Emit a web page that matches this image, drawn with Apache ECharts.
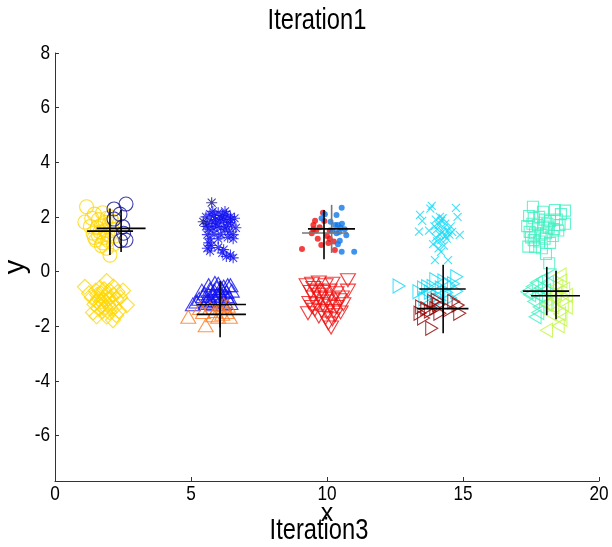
<!DOCTYPE html>
<html><head><meta charset="utf-8">
<script src="https://cdn.jsdelivr.net/npm/echarts@6/dist/echarts.min.js"></script>
<style>html,body{margin:0;padding:0;background:#fff}#c{width:612px;height:547px}</style>
</head><body><div id="c"></div>
<script>
var xTicks = [0, 5, 10, 15, 20];
var yTicks = [-6, -4, -2, 0, 2, 4, 6, 8];

var yellowCircles = [[1.16,2.37],[1.1,1.81],[2.02,0.6],[1.45,2.1],[1.6,1.9],[1.75,2.15],[1.9,1.95],[1.55,1.6],[1.7,1.7],[1.85,1.5],[2.0,1.75],[1.4,1.4],[1.6,1.3],[1.8,1.25],[1.95,1.35],[2.1,1.55],[1.5,1.15],[1.75,1.05],[1.9,0.85],[2.15,1.0],[1.3,1.65],[1.65,1.45],[2.05,2.0],[1.85,1.8],[1.45,1.25],[2.2,1.3],[1.7,0.95],[1.95,1.15],[1.35,1.95],[2.1,1.85]];
var navyCircles = [[2.61,2.47],[2.17,2.29],[2.17,1.92],[2.39,2.1],[2.49,1.64],[2.52,1.4],[2.41,1.13],[2.61,1.15]];
var yellowDiamonds = [[1.1,-0.56],[1.53,-1.64],[2.13,-1.78],[2.64,-1.23],[1.9,-0.35],[1.5,-0.7],[1.7,-0.8],[2.0,-0.7],[2.3,-0.75],[1.35,-0.95],[1.6,-1.0],[1.8,-1.05],[2.05,-0.95],[2.25,-1.0],[1.45,-1.2],[1.7,-1.25],[1.95,-1.2],[2.2,-1.3],[1.55,-0.85],[1.85,-0.9],[2.1,-1.15],[1.75,-1.45],[2.0,-1.5],[2.35,-1.45],[1.6,-1.35],[1.9,-1.65],[2.4,-0.95],[1.25,-0.8],[1.65,-0.6],[2.15,-0.55],[1.8,-0.65],[1.95,-1.0],[1.7,-1.1],[2.05,-1.35],[2.5,-0.7],[1.4,-1.5],[2.25,-1.6],[1.85,-1.3],[2.15,-0.85],[1.55,-1.1]];
var navyStars = [[5.76,2.52],[5.45,1.82]];
var blueStars = [[5.55,2.0],[5.7,2.1],[5.85,2.05],[6.0,2.15],[6.15,2.05],[6.3,2.1],[6.45,2.0],[6.6,1.95],[5.6,1.75],[5.75,1.85],[5.9,1.9],[6.05,1.85],[6.2,1.9],[6.35,1.8],[6.5,1.7],[6.65,1.6],[5.65,1.55],[5.8,1.6],[5.95,1.65],[6.1,1.6],[6.25,1.55],[6.4,1.45],[6.55,1.35],[6.55,1.2],[6.35,1.25],[6.1,1.35],[5.85,1.4],[6.0,1.2],[5.6,1.35],[5.7,1.2],[5.65,1.05],[5.75,0.95],[5.6,0.85],[5.7,0.75],[6.0,0.88],[6.15,0.68],[6.3,0.55],[6.45,0.6],[6.55,0.5],[6.2,0.8],[5.55,1.65],[6.45,1.9],[5.9,1.75],[6.1,1.95],[6.3,1.65],[5.8,2.2],[6.25,2.2]];
var blueTriangles = [[5.07,-1.2],[5.88,-0.42],[5.3,-1.0],[5.5,-0.8],[5.6,-1.05],[5.7,-0.65],[5.8,-0.9],[5.95,-0.6],[6.05,-0.8],[6.2,-0.55],[6.3,-0.75],[6.4,-0.95],[6.5,-0.7],[5.4,-0.7],[5.55,-1.15],[5.75,-1.1],[5.9,-1.05],[6.1,-1.0],[6.25,-1.1],[6.45,-1.15],[5.65,-0.5],[6.0,-0.45],[6.35,-0.5],[5.85,-0.7],[6.15,-0.7],[5.45,-0.9],[6.3,-0.9],[5.95,-0.85],[5.65,-0.85],[6.1,-0.6],[5.2,-1.1],[6.2,-1.2],[5.8,-1.2],[6.45,-0.5]];
var orangeTriangles = [[4.9,-1.66],[5.54,-1.97],[5.44,-1.48],[6.07,-1.34],[6.31,-1.48],[6.43,-1.66],[5.81,-1.6],[6.2,-1.2],[5.7,-1.34],[5.33,-1.34],[6.0,-1.66],[6.35,-1.25],[5.9,-1.45],[6.15,-1.55]];
var redDots = [[9.08,0.82],[9.56,1.86],[9.44,1.4],[9.85,2.15],[9.73,1.62],[10.05,1.04],[10.25,1.1],[9.79,0.97],[10.29,0.79],[9.6,1.5],[10.0,1.3],[9.5,1.7],[10.1,1.5],[9.66,1.2],[9.5,1.55],[9.9,1.85],[10.1,1.2]];
var blueDots = [[10.54,2.33],[10.35,2.07],[9.92,2.1],[10.13,1.82],[10.4,1.7],[10.5,1.6],[10.71,1.33],[10.47,1.13],[10.4,1.0],[10.54,0.72],[11.0,0.72],[10.3,1.7],[10.55,1.75],[10.2,1.5],[10.35,1.4],[10.65,1.55],[10.45,1.45],[9.8,1.95]];
var redDown = [[9.3,-1.53],[10.15,-2.05],[10.77,-0.32],[10.77,-0.7],[9.25,-0.5],[9.45,-0.45],[9.7,-0.4],[9.95,-0.5],[10.2,-0.45],[9.4,-0.75],[9.6,-0.7],[9.85,-0.75],[10.1,-0.7],[10.35,-0.8],[9.5,-0.95],[9.75,-1.0],[9.95,-0.95],[10.2,-1.0],[10.45,-1.05],[9.35,-1.15],[9.6,-1.2],[9.85,-1.2],[10.1,-1.25],[10.35,-1.3],[10.6,-1.2],[9.55,-1.4],[9.8,-1.45],[10.0,-1.5],[10.25,-1.45],[10.5,-1.5],[9.7,-1.65],[9.95,-1.7],[10.2,-1.75],[10.05,-1.9],[10.3,-1.6],[9.5,-0.6],[10.0,-1.1],[9.7,-0.85],[10.55,-0.95],[9.45,-1.3]];
var cyanX = [[13.85,2.4],[14.74,2.33],[13.42,2.07],[14.8,2.0],[13.5,1.85],[13.38,1.46],[14.88,1.34],[13.97,0.42],[14.45,0.42],[14.19,0.72],[13.9,1.0],[14.0,1.9],[14.2,1.85],[14.35,1.75],[14.1,1.7],[14.3,1.6],[14.05,1.55],[14.25,1.45],[14.45,1.5],[14.15,1.35],[14.35,1.3],[14.0,1.25],[14.5,1.35],[14.6,1.45],[14.2,1.15],[14.05,1.1],[14.4,1.2],[13.95,1.65],[14.15,2.0],[14.55,1.65],[13.75,1.5],[14.3,0.95],[13.8,2.3],[14.1,0.85],[14.25,1.95]];
var cyanRight = [[12.65,-0.53],[14.77,-0.19],[14.5,-0.5],[13.9,-0.55],[13.38,-0.74],[13.7,-0.56],[14.4,-0.77],[14.2,-0.6],[14.77,-0.72],[14.05,-0.9],[14.55,-0.97],[13.6,-1.0],[13.8,-0.76],[14.3,-0.35],[14.0,-0.3],[14.65,-0.45],[13.55,-0.6],[14.15,-1.05]];
var darkRedRight = [[13.85,-2.08],[13.42,-1.53],[13.67,-1.36],[14.15,-1.53],[14.82,-1.23],[14.88,-1.53],[13.92,-1.1],[14.1,-1.22],[13.48,-1.3],[13.55,-1.7],[14.05,-1.05],[14.66,-1.1],[13.8,-1.45],[14.0,-1.35],[14.5,-1.4]];
var aquaSquares = [[17.57,2.37],[17.94,2.19],[18.38,2.25],[18.75,2.23],[17.43,2.03],[18.75,1.75],[17.36,1.66],[17.4,0.91],[18.05,0.64],[18.17,0.3],[17.6,1.95],[17.8,2.0],[18.0,1.9],[18.2,1.85],[18.45,1.9],[18.6,2.1],[17.55,1.75],[17.75,1.7],[17.95,1.65],[18.15,1.6],[18.35,1.55],[18.55,1.7],[17.45,1.45],[17.65,1.4],[17.85,1.35],[18.05,1.4],[18.3,1.3],[18.5,1.5],[17.6,1.15],[17.8,1.1],[18.0,1.2],[18.2,1.05],[17.65,0.9],[17.9,0.85],[18.1,1.75],[17.5,1.25]];
var aquaLeft = [[17.34,-0.74],[17.7,-0.4],[17.9,-0.3],[17.6,-1.1],[17.65,-1.66],[17.75,-1.5],[17.85,-0.6],[18.1,-0.4],[18.2,-0.15],[17.9,-0.95],[18.05,-1.2],[17.45,-0.85],[17.55,-0.55],[18.0,-0.7],[17.8,-1.3],[17.7,-0.85]];
var limeLeft = [[18.57,-0.13],[18.6,-0.35],[18.4,-0.8],[18.8,-0.88],[18.3,-1.3],[18.65,-1.2],[18.1,-1.2],[18.55,-1.55],[18.2,-1.55],[18.07,-2.15],[18.5,-1.99],[18.35,-1.0],[18.8,-1.3],[18.45,-0.55],[18.7,-0.65],[18.25,-0.9],[18.6,-1.75]];

// centroid crosses: [x, y, xmin, xmax, ymin, ymax]
var blackCrosses = [[2.02,1.48,1.18,2.87,0.6,2.31],[2.43,1.58,1.53,3.33,0.71,2.25],[6.07,-1.21,5.21,7.02,-2.05,-0.35],[6.07,-1.57,5.21,7.02,-2.41,-0.7],[9.89,1.56,9.3,11.03,0.45,2.25],[14.27,-0.64,13.4,15.1,-1.5,0.25],[14.27,-1.36,13.3,15.2,-2.26,-0.5],[18.08,-0.72,17.2,18.9,-1.6,0.17],[18.42,-0.89,17.5,19.3,-1.75,0.03]];
var grayCrosses = [[10.17,1.41,9.08,10.77,0.68,2.44]];

var FONT = '"Liberation Sans",Arial,sans-serif';

function hollow(name, data, symbol, size, color, rotate) {
  return {
    type: 'scatter', name: name, data: data, symbol: symbol, symbolSize: size,
    symbolRotate: rotate || 0,
    itemStyle: { color: 'rgba(0,0,0,0)', borderColor: color, borderWidth: 1.1 },
    emphasis: { disabled: true }, silent: true, z: 2
  };
}
function filled(name, data, size, color) {
  return {
    type: 'scatter', name: name, data: data, symbol: 'circle', symbolSize: size,
    itemStyle: { color: color, borderWidth: 0 }, silent: true, z: 2
  };
}
function crosses(data, color) {
  return {
    type: 'custom', data: data, z: 5, silent: true,
    renderItem: function (params, api) {
      var x = api.value(0), y = api.value(1);
      var h0 = api.coord([api.value(2), y]), h1 = api.coord([api.value(3), y]);
      var v0 = api.coord([x, api.value(4)]), v1 = api.coord([x, api.value(5)]);
      var st = { stroke: color, lineWidth: 1.6 };
      return { type: 'group', children: [
        { type: 'line', shape: { x1: h0[0], y1: h0[1], x2: h1[0], y2: h1[1] }, style: st },
        { type: 'line', shape: { x1: v0[0], y1: v0[1], x2: v1[0], y2: v1[1] }, style: st }
      ]};
    }
  };
}

var STAR = 'path://M0,-1L0,1M-1,0L1,0M-0.72,-0.72L0.72,0.72M-0.72,0.72L0.72,-0.72';
var XMARK = 'path://M-1,-1L1,1M-1,1L1,-1';

var chart = echarts.init(document.getElementById('c'), null, { renderer: 'canvas' });
chart.setOption({
  animation: false,
  backgroundColor: '#fff',
  grid: { left: 55, right: 13, top: 53, bottom: 66, containLabel: false, outerBoundsMode: 'none' },
  xAxis: {
    type: 'value', min: 0, max: 20, interval: 5,
    name: 'x', nameLocation: 'middle', nameGap: 21,
    nameTextStyle: { fontSize: 25, fontFamily: FONT, color: '#000' },
    axisLine: { show: true, onZero: false, lineStyle: { color: '#333', width: 1 } },
    axisTick: { show: true, inside: true, length: 4, lineStyle: { color: '#333' } },
    axisLabel: { show: false },
    splitLine: { show: false }
  },
  yAxis: {
    type: 'value', min: -7.67, max: 8,
    name: 'y', nameLocation: 'middle', nameGap: 25,
    nameTextStyle: { fontSize: 29, fontFamily: FONT, color: '#000' },
    axisLine: { show: true, onZero: false, lineStyle: { color: '#333', width: 1 } },
    axisTick: { show: true, inside: true, length: 4, customValues: yTicks, lineStyle: { color: '#333' } },
    axisLabel: { show: false, customValues: yTicks },
    splitLine: { show: false }
  },
  series: [
    hollow('yc', yellowCircles, 'circle', 14, '#FFD700'),
    hollow('nc', navyCircles, 'circle', 14, '#10109A'),
    hollow('yd', yellowDiamonds, 'diamond', 15, '#FFD700'),
    hollow('bs', blueStars, STAR, 11, '#1010F0'),
    hollow('ns', navyStars, STAR, 11, '#101080'),
    hollow('bt', blueTriangles, 'triangle', [15, 13], '#1010F0'),
    hollow('ot', orangeTriangles, 'triangle', [15, 13], '#FF7A20'),
    filled('rd', redDots, 6, '#F01010'),
    filled('bd', blueDots, 6, '#1078E8'),
    hollow('rdn', redDown, 'triangle', [15, 13], '#F01010', 180),
    hollow('cx', cyanX, XMARK, 8, '#10D8F8'),
    hollow('cr', cyanRight, 'triangle', [14, 12], '#10D8F8', -90),
    hollow('drr', darkRedRight, 'triangle', [14, 12], '#900000', -90),
    hollow('as', aquaSquares, 'rect', 11, '#40F0C0'),
    hollow('al', aquaLeft, 'triangle', [14, 12], '#40F0C0', 90),
    hollow('ll', limeLeft, 'triangle', [14, 12], '#C0F840', 90),
    crosses(grayCrosses, '#777'),
    crosses(blackCrosses, '#000')
  ]
});

// Tick labels and titles as condensed text, positioned through the chart's own scales
var gfx = [];
xTicks.forEach(function (v) {
  var p = chart.convertToPixel({ gridIndex: 0 }, [v, -7.67]);
  gfx.push({ type: 'text', x: p[0], y: p[1] + 3, scaleX: 0.82, silent: true,
    style: { text: String(v), font: '21px ' + FONT, fill: '#000', align: 'center', verticalAlign: 'top' } });
});
yTicks.forEach(function (v) {
  var p = chart.convertToPixel({ gridIndex: 0 }, [0, v]);
  gfx.push({ type: 'text', x: p[0] - 5, y: p[1], scaleX: 0.82, silent: true,
    style: { text: String(v), font: '21px ' + FONT, fill: '#000', align: 'right', verticalAlign: 'middle' } });
});
gfx.push({ type: 'text', x: 317, y: 6, scaleX: 0.79, silent: true,
  style: { text: 'Iteration1', font: '30px ' + FONT, fill: '#000', align: 'center', verticalAlign: 'top' } });
gfx.push({ type: 'text', x: 319, y: 516, scaleX: 0.79, silent: true,
  style: { text: 'Iteration3', font: '30px ' + FONT, fill: '#000', align: 'center', verticalAlign: 'top' } });
chart.setOption({ graphic: gfx });
</script></body></html>
